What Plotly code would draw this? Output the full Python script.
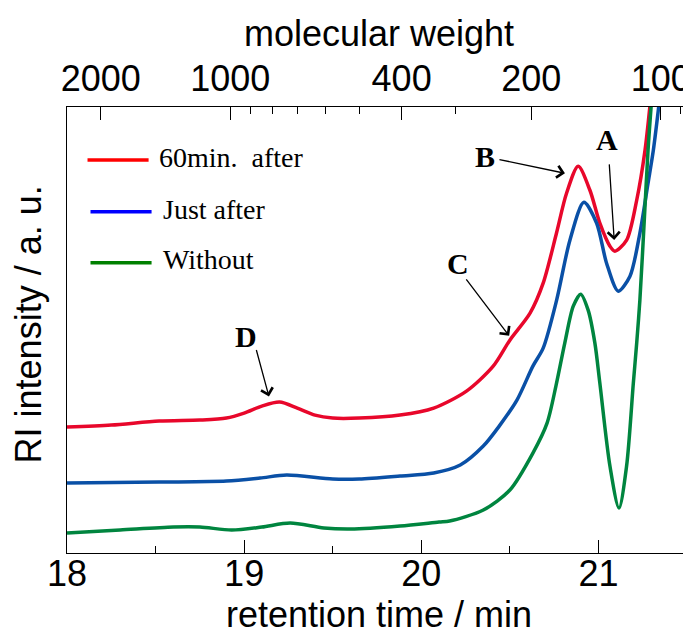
import plotly.graph_objects as go
import numpy as np

# ---------------- data ----------------
t_red = [18.00, 18.25, 18.52, 18.75, 18.90, 19.00, 19.10, 19.20, 19.30, 19.40, 19.50,
         19.65, 19.88, 20.07, 20.255, 20.406, 20.50, 20.614, 20.688, 20.763, 20.82, 20.886,
         20.952, 21.008, 21.065, 21.093, 21.159, 21.216, 21.263, 21.30, 21.33]
i_red = [1.26, 1.28, 1.32, 1.33, 1.35, 1.40, 1.47, 1.51, 1.45, 1.38, 1.35,
         1.35, 1.38, 1.45, 1.62, 1.87, 2.13, 2.40, 2.70, 3.20, 3.60, 3.87,
         3.63, 3.30, 3.07, 3.02, 3.13, 3.53, 4.03, 4.63, 5.13]

t_blue = [18.00, 18.52, 18.90, 19.09, 19.24, 19.50, 19.65, 19.88, 20.07, 20.22, 20.35, 20.44,
          20.54, 20.63, 20.688, 20.764, 20.839, 20.918, 20.99, 21.046, 21.112, 21.178, 21.234,
          21.28, 21.31, 21.34, 21.37]
i_blue = [0.70, 0.71, 0.72, 0.75, 0.78, 0.74, 0.74, 0.77, 0.80, 0.88, 1.07, 1.27,
          1.53, 1.87, 2.05, 2.53, 3.13, 3.51, 3.30, 2.90, 2.62, 2.77, 3.20,
          3.70, 4.03, 4.46, 4.93]

t_green = [18.00, 18.30, 18.60, 18.75, 18.93, 19.10, 19.26, 19.45, 19.60, 19.88, 20.10, 20.16,
           20.35, 20.50, 20.63, 20.71, 20.76, 20.81, 20.858, 20.90, 20.942, 20.98, 21.008,
           21.065, 21.116, 21.159, 21.197, 21.216, 21.234, 21.26, 21.28, 21.30]
i_green = [0.20, 0.23, 0.26, 0.26, 0.23, 0.26, 0.30, 0.25, 0.24, 0.27, 0.31, 0.32,
           0.43, 0.63, 1.00, 1.30, 1.67, 2.10, 2.47, 2.59, 2.43, 2.10, 1.70,
           0.87, 0.45, 0.87, 1.70, 2.10, 2.53, 3.37, 4.03, 4.53]

series_names = ["60min.  after", "Just after", "Without"]
curve_colors = ["#E8072B", "#0A50A6", "#00853F"]
legend_colors = ["#FF0000", "#0000FF", "#008000"]

x_major = [18, 19, 20, 21]
x_minor = [18.5, 19.5, 20.5]
mw_major = [2000, 1000, 400, 200, 100]
mw_minor = [900, 800, 700, 600, 500, 300, 90]
# calibration of the upper (molecular weight) axis
t_at_1000 = 18.922
min_per_decade = 2.43

X_RANGE = [18.0, 21.5]
Y_RANGE = [0.0, 4.463]


def mw_to_t(m):
    return t_at_1000 + min_per_decade * (3.0 - np.log10(m))


FONT_SANS = "Arial, 'Liberation Sans', sans-serif"
FONT_SERIF = "'Times New Roman', 'Liberation Serif', serif"

fig = go.Figure()
for tx, iy, c in [(t_red, i_red, curve_colors[0]),
                  (t_blue, i_blue, curve_colors[1]),
                  (t_green, i_green, curve_colors[2])]:
    fig.add_trace(go.Scatter(x=tx, y=iy, mode="lines",
                             line=dict(color=c, width=3.5, shape="spline", smoothing=0.8),
                             showlegend=False, hoverinfo="skip"))

# empty traces so that the extra axes are created
fig.add_trace(go.Scatter(x=[], y=[], xaxis="x2", yaxis="y", showlegend=False))
fig.add_trace(go.Scatter(x=[], y=[], xaxis="x3", yaxis="y", showlegend=False))
fig.add_trace(go.Scatter(x=[], y=[], xaxis="x4", yaxis="y", showlegend=False))

axis_font = dict(family=FONT_SANS, size=36, color="black")

# the page body adds an 8 px offset, so the figure is sized 8 px smaller
fig.update_layout(
    width=683, height=627,
    margin=dict(l=59, r=4, t=99, b=82, autoexpand=False),
    paper_bgcolor="white", plot_bgcolor="white",
    xaxis=dict(range=X_RANGE, tickmode="array", tickvals=x_major,
               ticktext=[str(v) for v in x_major], automargin=False,
               ticks="inside", ticklen=13, tickwidth=1.3, tickcolor="black",
               showline=True, linecolor="black", linewidth=1.3, mirror=True,
               showgrid=False, zeroline=False, tickfont=axis_font, ticklabelstandoff=-11),
    xaxis4=dict(range=X_RANGE, overlaying="x", side="bottom", anchor="y", automargin=False,
                tickmode="array", tickvals=x_minor, showticklabels=False,
                ticks="inside", ticklen=7, tickwidth=1.3, tickcolor="black",
                showline=False, showgrid=False, zeroline=False),
    xaxis2=dict(range=X_RANGE, overlaying="x", side="top", anchor="y", automargin=False,
                tickmode="array", tickvals=[mw_to_t(m) for m in mw_major],
                ticktext=[str(m) for m in mw_major],
                ticks="inside", ticklen=13, tickwidth=1.3, tickcolor="black",
                showline=False, showgrid=False, zeroline=False, tickfont=axis_font,
                ticklabelstandoff=8),
    xaxis3=dict(range=X_RANGE, overlaying="x", side="top", anchor="y", automargin=False,
                tickmode="array", tickvals=[mw_to_t(m) for m in mw_minor],
                ticks="inside", ticklen=7, tickwidth=1.3, tickcolor="black",
                showticklabels=False,
                showline=False, showgrid=False, zeroline=False),
    yaxis=dict(range=Y_RANGE, showticklabels=False, ticks="", automargin=False,
               showline=True, linecolor="black", linewidth=1.3, mirror=True,
               showgrid=False, zeroline=False),
)

annotations = []
# axis titles
annotations.append(dict(text="molecular weight", xref="paper", yref="paper", x=0.503, y=1.165,
                        xanchor="center", yanchor="middle", showarrow=False, font=axis_font))
annotations.append(dict(text="retention time / min", xref="paper", yref="paper", x=0.503, y=-0.139,
                        xanchor="center", yanchor="middle", showarrow=False, font=axis_font))
annotations.append(dict(text="RI intensity / a. u.", xref="paper", yref="paper", x=-0.062, y=0.5115,
                        xanchor="center", yanchor="middle", textangle=-90, showarrow=False,
                        font=axis_font))

# peak labels and arrows: (label, label_x, label_y, tip_x, tip_y, ax, ay)
label_specs = [
    ("A", 21.046, 4.133, 21.089, 3.133, -5, -77),
    ("B", 20.359, 3.963, 20.811, 3.80, -67, -14),
    ("C", 20.208, 2.893, 20.496, 2.173, -44, -58),
    ("D", 19.012, 2.166, 19.140, 1.566, -13, -48),
]
for lab, lx, ly, tx, ty, ax, ay in label_specs:
    annotations.append(dict(text="<b>%s</b>" % lab, x=lx, y=ly, xref="x", yref="y",
                            showarrow=False, xanchor="center", yanchor="middle",
                            font=dict(family=FONT_SERIF, size=30, color="black")))
    annotations.append(dict(text="", x=tx, y=ty, xref="x", yref="y", showarrow=True,
                            ax=ax, ay=ay, axref="pixel", ayref="pixel",
                            arrowhead=4, arrowsize=1.8, arrowwidth=1.3, arrowcolor="black",
                            standoff=0, startstandoff=0))

# legend (drawn manually)
legend_rows = [(0.881, 0.0331, 0.1316, 0.1445), (0.765, 0.0379, 0.1364, 0.151),
               (0.651, 0.0379, 0.1364, 0.151)]
shapes = []
for (yp, x0, x1, xt), name, col in zip(legend_rows, series_names, legend_colors):
    shapes.append(dict(type="line", xref="paper", yref="paper", x0=x0, x1=x1, y0=yp, y1=yp,
                       line=dict(color=col, width=3.5)))
    annotations.append(dict(text=name, xref="paper", yref="paper", x=xt, y=yp + 0.006,
                            xanchor="left", yanchor="middle", showarrow=False,
                            font=dict(family=FONT_SERIF, size=28, color="black")))

fig.update_layout(annotations=annotations, shapes=shapes)
fig.write_html("out.html")
